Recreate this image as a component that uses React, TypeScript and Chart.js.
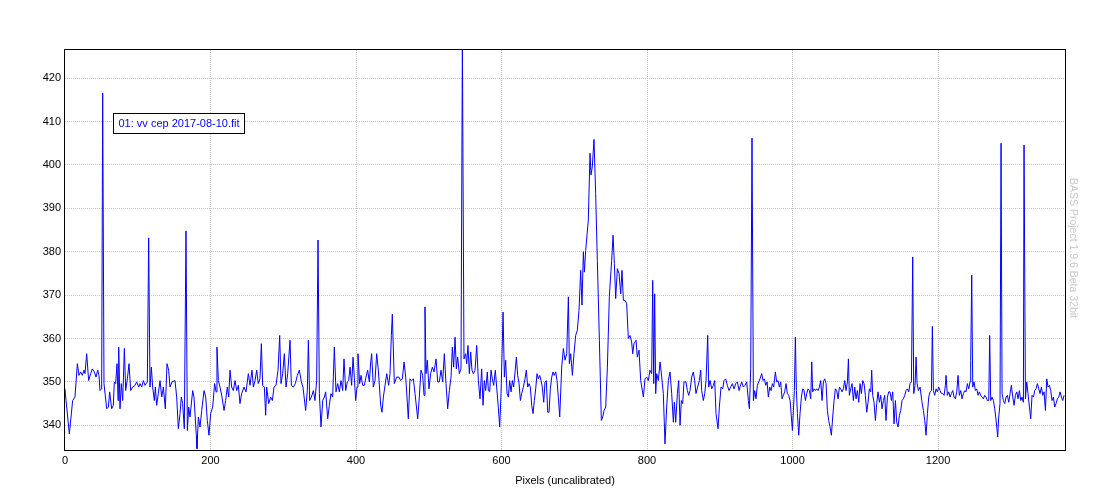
import { useEffect, useRef } from "react";
import { Chart, registerables } from "chart.js";

Chart.register(...registerables);

// Pixel positions (x) of the spectrum samples
const pixelX: number[] = [
  0, 1.4, 6.0, 10.5, 13.7, 17.0, 19.2, 21.5, 23.8, 26.1, 27.5, 29.8, 32.5, 35.3, 37.6, 40.3, 42.6, 44.9, 46.7, 48.1,
  50.4, 51.8, 53.6, 57.3, 59.6, 61.4, 64.1, 66.4, 67.8, 69.6, 71.5, 72.9, 73.8, 75.6, 77.4, 79.3, 81.6, 83.4, 85.7, 88.0,
  90.3, 93.0, 96.2, 98.5, 101.3, 103.1, 105.4, 107.7, 110.0, 113.2, 115.0, 116.8, 118.7, 120.5, 122.8, 124.2, 126.0, 128.3, 130.6, 132.9,
  135.2, 137.9, 140.2, 142.5, 144.3, 147.1, 151.2, 153.5, 155.8, 158.1, 159.9, 161.7, 164.0, 166.3, 168.2, 170.0, 171.8, 175.5, 177.3, 180.5,
  181.4, 183.3, 185.6, 187.9, 191.1, 193.4, 195.6, 197.9, 200.2, 203.0, 205.7, 207.6, 208.9, 210.8, 213.1, 215.8, 218.6, 220.8, 223.1, 225.0,
  226.8, 229.1, 231.4, 233.7, 236.0, 238.3, 240.5, 242.8, 246.0, 248.8, 252.0, 254.3, 257.0, 258.9, 261.2, 263.5, 265.7, 268.0, 269.9, 271.7,
  274.0, 275.8, 277.2, 280.0, 282.7, 285.0, 287.3, 290.0, 292.8, 295.1, 296.9, 299.2, 301.5, 303.8, 306.1, 309.3, 311.1, 313.9, 316.6, 319.4,
  322.1, 324.9, 327.1, 330.8, 333.1, 334.5, 336.3, 338.6, 341.4, 343.6, 345.9, 347.8, 349.6, 351.9, 354.2, 356.5, 358.3, 361.1, 363.3, 365.6,
  367.9, 370.2, 372.5, 374.8, 377.1, 379.4, 381.7, 383.5, 385.8, 388.1, 389.9, 391.8, 394.0, 395.9, 397.7, 399.5, 401.4, 402.7, 405.0, 406.9,
  409.2, 411.5, 413.7, 416.0, 418.3, 420.2, 421.5, 423.8, 426.1, 428.4, 430.7, 433.9, 435.7, 437.6, 439.9, 442.2, 444.9, 446.7, 448.6, 449.9,
  452.7, 455.9, 459.1, 461.4, 463.7, 466.0, 468.3, 471.9, 474.2, 476.5, 478.8, 481.1, 484.8, 487.0, 489.3, 491.6, 493.5, 494.8, 496.2, 498.0,
  500.3, 502.6, 504.9, 507.2, 510.0, 512.3, 514.5, 516.8, 519.1, 521.4, 523.7, 526.0, 528.3, 530.6, 532.4, 534.2, 536.1, 537.9, 539.7, 542.0,
  544.3, 546.2, 548.4, 550.7, 552.1, 553.9, 555.8, 557.6, 559.4, 561.3, 563.6, 565.9, 568.2, 570.4, 572.7, 574.6, 576.4, 578.2, 580.5, 581.9,
  583.7, 585.6, 587.4, 589.2, 591.5, 593.3, 595.6, 597.5, 599.3, 600.7, 602.1, 603.9, 605.7, 607.6, 609.4, 611.2, 613.1, 614.9, 616.7, 618.6,
  620.4, 622.2, 624.1, 625.9, 627.7, 630.0, 632.3, 634.1, 636.0, 637.8, 639.6, 641.5, 643.3, 645.1, 647.0, 648.8, 650.6, 652.5, 654.3, 656.1,
  658.0, 659.8, 661.6, 663.5, 665.3, 667.1, 669.0, 670.8, 672.6, 674.5, 676.3, 678.1, 680.0, 682.7, 685.0, 687.3, 689.6, 691.9, 693.2, 695.1,
  697.4, 699.6, 701.9, 704.2, 706.5, 708.8, 710.6, 712.5, 713.9, 715.7, 719.3, 721.6, 723.0, 724.8, 727.1, 729.4, 731.7, 734.5, 737.2, 739.1,
  740.9, 743.2, 745.5, 748.2, 751.4, 753.3, 755.1, 756.9, 759.2, 761.5, 763.8, 765.6, 767.5, 769.7, 772.0, 774.3, 776.6, 778.9, 780.3, 782.1,
  784.9, 786.7, 789.0, 791.3, 795.0, 797.2, 799.5, 801.8, 804.1, 806.4, 807.8, 809.2, 810.5, 811.9, 813.3, 815.6, 817.9, 820.2, 822.4, 824.7,
  827.0, 829.3, 831.6, 833.9, 836.2, 837.6, 839.4, 841.7, 843.5, 845.4, 847.2, 849.0, 850.8, 853.6, 855.4, 857.3, 859.1, 861.4, 863.7, 865.5,
  867.3, 869.6, 871.9, 873.8, 875.1, 877.4, 879.3, 881.1, 883.4, 884.8, 886.6, 888.9, 891.2, 893.0, 894.8, 897.6, 899.4, 901.7, 904.0, 905.8,
  908.1, 910.4, 912.7, 915.0, 917.3, 919.6, 921.9, 924.2, 926.5, 927.8, 930.1, 932.4, 934.7, 937.0, 939.3, 940.7, 942.5, 944.3, 946.2, 948.0,
  949.8, 951.7, 953.5, 955.3, 957.6, 959.5, 961.3, 963.1, 965.0, 966.8, 968.6, 970.5, 972.3, 974.1, 976.4, 978.2, 980.1, 981.9, 983.7, 985.6,
  987.4, 989.2, 991.1, 992.9, 994.7, 996.6, 998.4, 999.8, 1001.2, 1002.5, 1003.9, 1005.3, 1006.7, 1008.5, 1010.3, 1012.2, 1014.0, 1015.8, 1017.7, 1019.5,
  1021.3, 1023.2, 1025.0, 1026.4, 1027.7, 1029.6, 1031.4, 1033.2, 1035.1, 1036.9, 1038.7, 1040.6, 1042.4, 1044.2, 1046.1, 1047.9, 1049.7, 1051.6, 1053.4, 1055.2,
  1057.1, 1058.9, 1060.7, 1062.6, 1064.4, 1066.2, 1068.1, 1069.9, 1071.7, 1073.6, 1075.4, 1076.8, 1078.1, 1080.0, 1081.8, 1083.6, 1085.5, 1087.3, 1089.1, 1091.0,
  1092.8, 1094.6, 1096.5, 1098.3, 1100.1, 1102.0, 1103.8, 1105.6, 1107.5, 1108.8, 1110.2, 1112.0, 1113.9, 1115.7, 1117.5, 1119.4, 1121.2, 1123.0, 1124.9, 1126.7,
  1128.5, 1130.4, 1132.2, 1134.0, 1135.9, 1137.7, 1139.5, 1141.4, 1143.2, 1145.0, 1146.9, 1148.7, 1150.5, 1152.4, 1154.2, 1156.0, 1157.9, 1159.7, 1161.5, 1163.4,
  1165.2, 1166.6, 1168.4, 1169.8, 1171.2, 1173.0, 1175.3, 1177.6, 1179.9, 1181.7, 1183.5, 1185.4, 1187.2, 1189.0, 1190.9, 1192.2, 1193.6, 1195.4, 1197.3, 1199.1,
  1200.9, 1202.8, 1204.6, 1206.4, 1208.3, 1210.1, 1211.0, 1212.8, 1214.7, 1216.5, 1218.3, 1220.2, 1222.0, 1223.8, 1225.7, 1227.5, 1229.3, 1231.2, 1233.0, 1234.8,
  1236.7, 1238.5, 1240.3, 1242.2, 1244.0, 1244.9, 1246.3, 1247.7, 1249.5, 1251.3, 1253.2, 1255.0, 1256.8, 1258.7, 1260.5, 1262.3, 1264.2, 1266.0, 1267.8, 1269.7,
  1271.0, 1272.4, 1274.2, 1276.1, 1277.9, 1279.3, 1280.7, 1282.0, 1283.4, 1285.2, 1286.6, 1288.0, 1289.8, 1291.7, 1293.5, 1295.3, 1297.2, 1299.0, 1300.8, 1302.7,
  1304.5, 1306.3, 1308.2, 1310.0, 1311.8, 1313.7, 1315.5, 1317.3, 1318.2, 1320.1, 1321.9, 1323.7, 1325.6, 1327.4, 1329.2, 1331.1, 1332.9, 1334.7, 1336.6, 1338.4,
  1340.2, 1342.1, 1343.9, 1345.7, 1347.6, 1349.4, 1351.2, 1353.1, 1354.9, 1356.7, 1358.6, 1360.4, 1362.2, 1364.1, 1365.9, 1367.7, 1369.6, 1371.4, 1373.2,
];

// Intensity (counts) at each pixel
const counts: number[] = [
  348.4, 345.7, 338.0, 345.7, 346.5, 354.2, 351.5, 352.3, 351.5, 352.7, 351.9, 356.5, 350.3, 351.9, 353.0, 352.3, 351.1, 352.7, 351.5, 348.0,
  348.4, 416.6, 349.6, 343.8, 344.2, 347.7, 343.8, 344.6, 350.0, 349.6, 354.2, 345.7, 358.0, 343.8, 349.6, 345.7, 357.7, 348.0, 350.7, 354.2,
  348.0, 348.8, 349.2, 350.0, 348.8, 349.6, 348.8, 350.3, 349.2, 350.0, 383.2, 348.8, 353.4, 348.8, 345.7, 348.8, 344.6, 347.3, 350.3, 346.5,
  348.8, 343.8, 354.2, 352.7, 348.8, 350.0, 350.3, 346.5, 339.2, 342.7, 346.5, 345.0, 339.2, 384.8, 338.8, 344.2, 341.9, 348.0, 346.5, 337.7,
  334.6, 341.9, 339.6, 343.4, 348.0, 346.5, 341.1, 337.7, 342.7, 344.2, 349.6, 347.7, 358.0, 350.3, 348.8, 346.5, 343.4, 345.7, 348.8, 346.5,
  352.7, 348.8, 348.0, 350.3, 348.0, 349.2, 345.0, 347.3, 348.8, 347.7, 351.9, 349.2, 352.7, 348.8, 350.3, 352.7, 349.6, 350.7, 358.8, 349.2,
  348.8, 342.3, 348.8, 345.0, 346.5, 345.7, 348.8, 349.2, 352.7, 360.7, 349.6, 351.9, 356.5, 348.8, 351.9, 359.6, 349.2, 348.8, 349.6, 351.5,
  352.7, 350.0, 348.8, 343.4, 348.0, 359.6, 345.7, 346.5, 348.0, 345.7, 350.3, 382.7, 347.3, 339.6, 345.7, 346.5, 347.7, 341.5, 344.6, 347.3,
  346.5, 358.0, 347.7, 349.6, 347.7, 350.3, 348.0, 355.3, 348.0, 350.0, 350.3, 353.4, 349.2, 355.7, 351.1, 345.7, 348.8, 356.5, 349.6, 351.5,
  349.2, 349.2, 351.1, 352.7, 350.0, 354.6, 356.5, 348.8, 350.3, 356.5, 352.7, 344.6, 343.0, 346.5, 349.2, 351.9, 349.2, 351.9, 360.7, 365.6,
  349.6, 351.1, 351.1, 350.3, 350.7, 354.6, 351.1, 341.5, 350.7, 350.3, 350.7, 347.3, 341.5, 346.5, 352.7, 351.5, 346.9, 367.3, 351.9, 355.0,
  348.4, 351.9, 353.4, 352.3, 355.3, 350.0, 350.0, 352.7, 350.0, 356.5, 349.6, 343.8, 348.0, 351.1, 358.0, 353.4, 360.3, 353.0, 355.7, 351.9,
  353.0, 428.0, 355.3, 356.5, 354.2, 358.4, 351.9, 356.9, 352.7, 351.9, 352.7, 358.4, 350.3, 346.1, 353.0, 344.6, 350.3, 348.0, 352.3, 348.0,
  347.7, 352.7, 350.7, 349.2, 352.7, 348.8, 344.2, 339.6, 347.3, 356.5, 366.1, 351.1, 355.0, 347.3, 346.5, 350.3, 347.7, 350.3, 348.8, 352.3,
  355.7, 351.5, 349.6, 345.7, 347.3, 348.8, 350.7, 352.7, 348.8, 349.6, 348.8, 344.6, 342.7, 345.7, 348.4, 351.9, 350.7, 351.5, 350.3, 348.8,
  345.3, 350.0, 350.3, 343.0, 343.0, 348.4, 351.1, 352.3, 351.5, 352.3, 350.3, 346.5, 341.9, 353.4, 357.7, 355.0, 356.5, 369.6, 354.2, 356.5,
  351.5, 356.5, 360.7, 361.9, 366.5, 375.7, 367.7, 380.0, 375.3, 380.3, 387.3, 402.7, 397.7, 399.6, 405.9, 393.4, 378.0, 359.6, 341.1, 341.9,
  343.4, 344.2, 353.4, 369.6, 378.0, 383.8, 377.3, 369.2, 376.1, 375.0, 370.3, 375.7, 368.8, 368.8, 368.0, 360.0, 360.7, 359.2, 356.5, 358.8,
  359.6, 355.7, 357.3, 350.3, 346.5, 350.7, 351.1, 350.3, 352.7, 351.9, 373.4, 349.6, 370.3, 347.3, 351.9, 350.3, 354.6, 351.1, 347.3, 335.7,
  344.2, 350.3, 352.3, 347.3, 340.7, 345.3, 340.7, 347.3, 350.3, 340.0, 345.7, 345.0, 350.0, 350.0, 348.0, 346.9, 348.0, 351.1, 352.3, 350.3,
  347.3, 348.8, 350.3, 352.7, 348.0, 345.7, 347.3, 350.3, 360.7, 348.8, 350.3, 348.4, 349.2, 350.3, 342.7, 339.2, 344.2, 348.8, 348.4, 350.3,
  350.7, 349.2, 348.0, 348.8, 349.6, 348.4, 349.6, 350.0, 348.0, 348.8, 350.0, 348.8, 349.2, 350.0, 345.7, 343.8, 353.0, 406.2, 345.7, 348.0,
  346.1, 349.2, 350.0, 350.7, 351.9, 350.3, 350.7, 349.2, 350.0, 346.5, 348.8, 348.0, 349.6, 348.8, 352.3, 350.0, 350.3, 348.8, 350.0, 346.1,
  346.9, 347.7, 349.6, 347.3, 346.9, 345.7, 341.9, 338.8, 343.4, 348.0, 360.3, 348.0, 342.7, 337.7, 342.7, 346.5, 348.4, 348.0, 345.7, 347.3,
  348.4, 348.0, 346.1, 354.6, 347.7, 348.4, 348.0, 348.4, 348.0, 348.8, 350.3, 345.7, 350.0, 350.7, 349.6, 343.4, 341.1, 339.6, 337.7, 341.9,
  345.7, 348.4, 348.0, 346.1, 348.8, 348.4, 347.7, 348.4, 350.3, 348.0, 350.0, 355.3, 346.9, 348.4, 349.6, 345.7, 348.8, 346.1, 348.0, 345.3,
  349.6, 347.3, 350.3, 349.6, 346.9, 343.0, 345.3, 348.4, 347.7, 352.7, 346.9, 345.3, 341.1, 345.0, 347.7, 345.3, 346.9, 343.8, 345.7, 346.9,
  341.1, 346.5, 347.7, 347.7, 345.7, 347.7, 340.3, 345.7, 340.7, 339.6, 342.3, 343.4, 345.7, 346.1, 346.9, 348.0, 348.4, 347.7, 349.6, 350.0,
  378.8, 347.3, 349.2, 355.7, 349.6, 348.0, 348.8, 345.7, 343.4, 341.1, 337.7, 342.7, 346.5, 347.7, 348.0, 362.8, 348.0, 346.9, 348.4, 347.7,
  348.8, 348.0, 347.3, 347.3, 346.9, 349.2, 351.5, 346.9, 347.7, 346.5, 347.3, 348.0, 346.5, 346.1, 347.7, 351.5, 346.9, 348.0, 346.1, 347.3,
  348.0, 347.7, 349.6, 348.4, 350.0, 355.0, 374.6, 348.8, 350.0, 348.0, 348.4, 346.9, 347.7, 346.9, 346.5, 346.1, 346.9, 346.5, 345.7, 345.7,
  360.7, 345.7, 346.5, 345.7, 343.8, 341.9, 339.6, 337.3, 341.9, 345.0, 405.0, 347.3, 345.7, 345.0, 346.5, 346.9, 345.3, 347.3, 349.2, 346.5,
  344.6, 346.9, 347.7, 346.1, 348.0, 345.7, 346.5, 345.3, 404.6, 346.1, 350.0, 347.3, 344.2, 341.5, 346.9, 346.5, 348.0, 348.4, 349.6, 348.4,
  347.3, 348.8, 346.9, 347.7, 343.4, 350.7, 348.8, 349.2, 348.0, 345.7, 346.5, 344.2, 345.0, 346.1, 346.5, 347.7, 346.5, 345.7, 346.9,
];

const xTicks: number[] = [0, 200, 400, 600, 800, 1000, 1200];
const yTicks: number[] = [340, 350, 360, 370, 380, 390, 400, 410, 420];
const xRange: number[] = [0, 1374.5];
const yRange: number[] = [334.3, 426.5];

const seriesLabel = "01: vv cep 2017-08-10.fit";
const xTitle = "Pixels (uncalibrated)";
const watermark = "BASS Project 1.9.6 Beta 32bit";

const FONT = '"Liberation Sans", Arial, sans-serif';

export default function App() {
  const canvasRef = useRef<HTMLCanvasElement | null>(null);

  useEffect(() => {
    const canvas = canvasRef.current;
    if (!canvas) return;

    const points = pixelX.map((x, i) => ({ x, y: counts[i] }));

    const overlay = {
      id: "overlay",
      afterDraw(chart: any) {
        const { ctx, chartArea: a } = chart;
        ctx.save();
        // frame
        ctx.strokeStyle = "#000";
        ctx.lineWidth = 1;
        ctx.strokeRect(a.left - 0.5, a.top - 0.5, a.right - a.left + 1, a.bottom - a.top + 1);

        // legend box
        ctx.font = `11px ${FONT}`;
        const tw = ctx.measureText(seriesLabel).width;
        const bx = a.left + 48.5;
        const by = a.top + 63.5;
        const bw = Math.round(tw + 10);
        const bh = 20;
        ctx.fillStyle = "#fff";
        ctx.fillRect(bx, by, bw, bh);
        ctx.strokeStyle = "#000";
        ctx.strokeRect(bx, by, bw, bh);
        ctx.fillStyle = "#0000ff";
        ctx.textAlign = "left";
        ctx.textBaseline = "middle";
        ctx.fillText(seriesLabel, bx + 5, by + bh / 2 + 0.5);

        // watermark
        ctx.translate(a.right + 8, 248);
        ctx.rotate(Math.PI / 2);
        ctx.font = `10.5px ${FONT}`;
        ctx.fillStyle = "#c8c8c8";
        ctx.textAlign = "center";
        ctx.textBaseline = "middle";
        ctx.fillText(watermark, 0, 0);
        ctx.restore();
      },
    };

    const gridColor = (c: any) => (c.tick && c.tick.value === 0 ? "rgba(0,0,0,0)" : "#c8c8c8");

    const chart = new Chart(canvas, {
      type: "line",
      data: {
        datasets: [
          {
            label: seriesLabel,
            data: points,
            borderColor: "#0000ff",
            borderWidth: 1,
            pointRadius: 0,
            tension: 0,
            fill: false,
          },
        ],
      },
      options: {
        responsive: false,
        animation: false,
        events: [],
        layout: { padding: { top: 50, right: 35, bottom: 0, left: 0 } },
        plugins: {
          legend: { display: false },
          tooltip: { enabled: false },
          title: { display: false },
        },
        scales: {
          x: {
            type: "linear",
            min: xRange[0],
            max: xRange[1],
            afterBuildTicks: (scale: any) => {
              scale.ticks = xTicks.map((v) => ({ value: v }));
            },
            afterFit: (scale: any) => {
              scale.height = 50;
            },
            grid: { color: gridColor, lineWidth: 1, drawTicks: false },
            border: { display: false, dash: [1, 1] },
            ticks: {
              color: "#000",
              font: { family: FONT, size: 11 },
              padding: 4,
              maxRotation: 0,
              autoSkip: false,
              callback: (v: any) => String(v),
            },
            title: {
              display: true,
              text: xTitle,
              color: "#000",
              font: { family: FONT, size: 11 },
              padding: { top: 0, bottom: 12 },
            },
          },
          y: {
            type: "linear",
            min: yRange[0],
            max: yRange[1],
            afterBuildTicks: (scale: any) => {
              scale.ticks = yTicks.map((v) => ({ value: v }));
            },
            afterFit: (scale: any) => {
              scale.width = 65;
            },
            grid: { color: "#c8c8c8", lineWidth: 1, drawTicks: false },
            border: { display: false, dash: [1, 1] },
            ticks: {
              color: "#000",
              font: { family: FONT, size: 11 },
              padding: 4,
              autoSkip: false,
              callback: (v: any) => String(v),
            },
          },
        },
      },
      plugins: [overlay],
    } as any);

    return () => chart.destroy();
  }, []);

  return (
    <div style={{ position: "absolute", left: 0, top: 0, width: 1100, height: 500, background: "#fff" }}>
      <canvas ref={canvasRef} width={1100} height={500} style={{ display: "block" }} />
    </div>
  );
}
